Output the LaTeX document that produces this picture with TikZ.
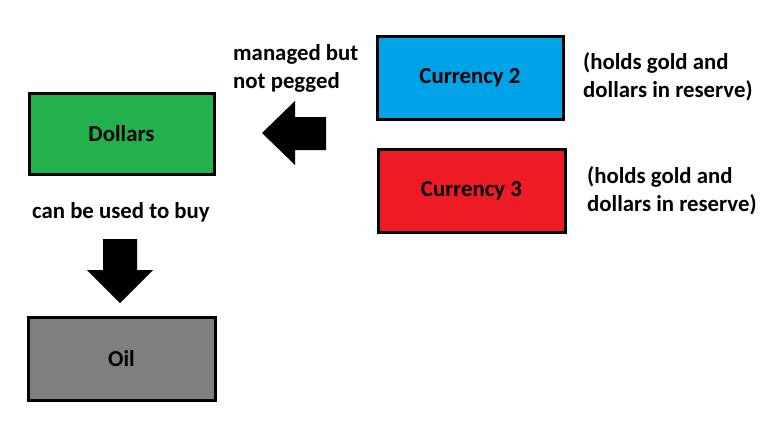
\documentclass[tikz,border=0pt]{standalone}
\usepackage{fontspec}
\setmainfont{Carlito}
\definecolor{pblue}{HTML}{00A2E8}
\definecolor{pred}{HTML}{ED1C24}
\definecolor{pgreen}{HTML}{22B14C}
\definecolor{pgray}{HTML}{7F7F7F}
\tikzset{
  box/.style={draw=black, line width=3pt, inner sep=0pt, font=\bfseries\fontsize{22.8}{28}\selectfont},
  lbl/.style={font=\bfseries\fontsize{22.8}{28}\selectfont, align=left, anchor=west, inner sep=0pt},
  blockarrow/.style={fill=black, draw=none}
}
\begin{document}
\begin{tikzpicture}[x=1pt,y=-1pt]
\useasboundingbox (0,0) rectangle (783,439);
\fill[white] (0,0) rectangle (783,439);
\node[box, fill=pgreen, minimum width=185pt, minimum height=81pt] (dollars) at (121.5,133.5) {Dollars};
\node[box, fill=pblue, minimum width=186pt, minimum height=83pt] (cur2) at (470,77.5) {Currency 2};
\node[box, fill=pred, minimum width=187pt, minimum height=83pt] (cur3) at (471.5,190.5) {Currency 3};
\node[box, fill=pgray, minimum width=187pt, minimum height=83pt] (oil) at (121.5,358.5) {Oil};
\node[lbl] (mb) at (233,68) {managed but\\not pegged};
\node[lbl] (n2) at (583,77) {(holds gold and\\dollars in reserve)};
\node[lbl] (n3) at (587,191) {(holds gold and\\dollars in reserve)};
\node[lbl] (cb) at (32,212) {can be used to buy};
\fill[blockarrow] (326,117) -- (295,117) -- (295,101) -- (262,133) -- (295,165) -- (295,150) -- (326,150) -- cycle;
\fill[blockarrow] (103,239) -- (137,239) -- (137,270) -- (153,270) -- (120,303) -- (87,270) -- (103,270) -- cycle;
\end{tikzpicture}
\end{document}
